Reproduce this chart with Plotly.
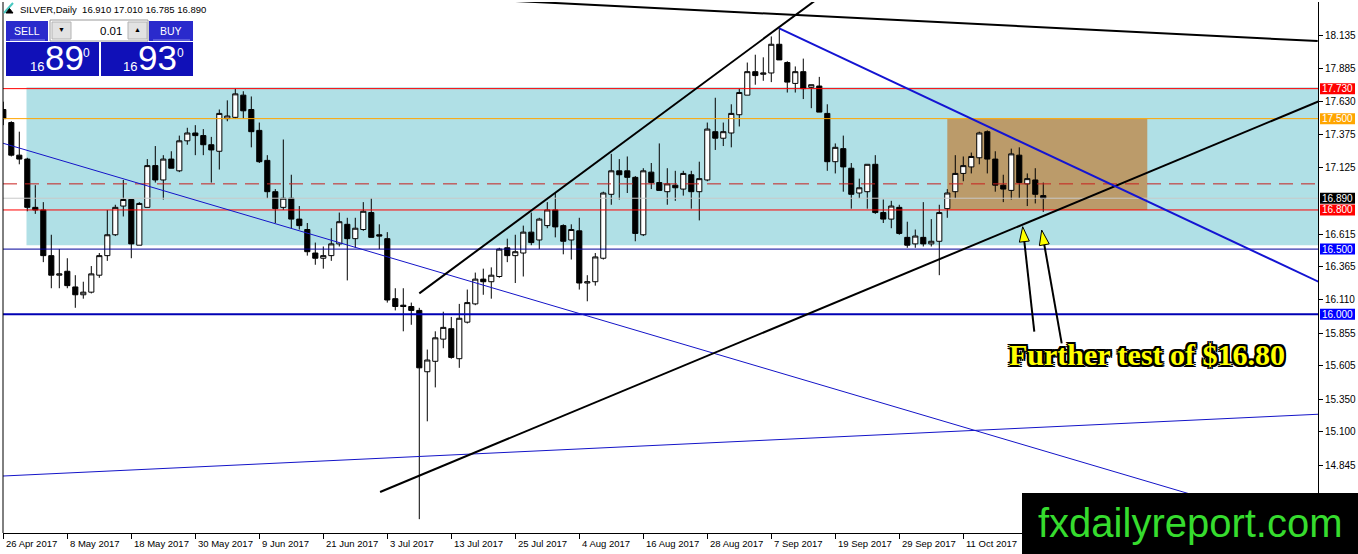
import math
import plotly.graph_objects as go

# ---------------- DATA ----------------
symbol = "SILVER,Daily"
open_ = [17.57, 17.47, 17.22, 17.19, 16.82, 16.80, 16.45, 16.30, 16.33, 16.21,
         16.15, 16.17, 16.30, 16.45, 16.61, 16.83, 16.88, 16.53, 16.82, 17.14,
         17.03, 17.19, 17.10, 17.33, 17.39, 17.37, 17.30, 17.25, 17.50, 17.51,
         17.68, 17.57, 17.41, 17.18, 16.94, 16.82, 16.89, 16.73, 16.65, 16.47,
         16.43, 16.45, 16.54, 16.69, 16.58, 16.65, 16.78, 16.61, 16.58, 16.12,
         16.07, 16.06, 16.03, 15.56, 15.64, 15.81, 15.89, 15.66, 15.94, 16.08,
         16.27, 16.25, 16.29, 16.51, 16.45, 16.47, 16.63, 16.57, 16.68, 16.80,
         16.68, 16.57, 16.64, 16.24, 16.25, 16.43, 16.92, 17.10, 17.10, 17.05,
         16.61, 17.09, 17.01, 16.94, 16.99, 16.96, 17.07, 16.94, 17.03, 17.40,
         17.35, 17.39, 17.53, 17.68, 17.86, 17.84, 17.85, 18.07, 17.93, 17.77,
         17.86, 17.74, 17.75, 17.54, 17.17, 17.27, 17.12, 16.93, 16.94, 17.15,
         16.78, 16.73, 16.82, 16.59, 16.54, 16.59, 16.54, 16.56, 16.81, 16.94,
         17.08, 17.13, 17.20, 17.40, 17.19, 16.99, 16.95, 17.22, 17.00, 17.03,
         16.910]
high = [17.63, 17.48, 17.40, 17.20, 16.99, 16.86, 16.61, 16.50, 16.43, 16.30,
        16.25, 16.37, 16.47, 16.80, 16.84, 17.03, 16.88, 16.86, 17.19, 17.29,
        17.22, 17.25, 17.37, 17.43, 17.45, 17.42, 17.36, 17.57, 17.64, 17.73,
        17.71, 17.67, 17.47, 17.22, 16.96, 17.34, 17.07, 16.83, 16.70, 16.55,
        16.52, 16.66, 16.78, 16.74, 16.74, 16.86, 16.89, 16.69, 16.63, 16.20,
        16.20, 16.09, 16.05, 15.73, 15.87, 16.02, 15.98, 16.08, 16.19, 16.32,
        16.35, 16.36, 16.51, 16.58, 16.61, 16.68, 16.78, 16.74, 16.86, 16.93,
        16.69, 16.69, 16.74, 16.30, 16.47, 16.94, 17.23, 17.19, 17.21, 17.06,
        17.12, 17.16, 17.31, 17.12, 17.10, 17.10, 17.10, 17.17, 17.47, 17.66,
        17.47, 17.61, 17.73, 17.93, 17.99, 17.97, 18.13, 18.20, 17.94, 17.90,
        17.96, 17.76, 17.82, 17.61, 17.31, 17.37, 17.16, 17.04, 17.15, 17.22,
        16.88, 16.87, 16.84, 16.71, 16.65, 16.86, 16.73, 16.84, 16.96, 17.22,
        17.21, 17.24, 17.40, 17.41, 17.25, 17.07, 17.27, 17.28, 17.08, 17.12,
        17.010]
low = [17.45, 17.21, 17.15, 16.79, 16.77, 16.40, 16.20, 16.20, 16.20, 16.05,
       16.12, 16.16, 16.28, 16.41, 16.60, 16.75, 16.43, 16.53, 16.82, 17.01,
       16.88, 17.12, 17.09, 17.30, 17.22, 17.22, 17.01, 17.11, 17.48, 17.50,
       17.50, 17.28, 17.16, 16.89, 16.70, 16.80, 16.66, 16.65, 16.45, 16.38,
       16.35, 16.41, 16.52, 16.26, 16.51, 16.64, 16.59, 16.50, 16.09, 16.03,
       15.87, 15.92, 14.43, 15.18, 15.44, 15.74, 15.66, 15.59, 15.93, 16.07,
       16.15, 16.12, 16.28, 16.40, 16.24, 16.29, 16.53, 16.50, 16.66, 16.59,
       16.46, 16.42, 16.19, 16.10, 16.22, 16.42, 16.84, 16.88, 16.93, 16.56,
       16.60, 16.96, 16.95, 16.84, 16.87, 16.91, 16.81, 16.72, 17.02, 17.26,
       17.29, 17.28, 17.44, 17.68, 17.76, 17.79, 17.78, 17.95, 17.70, 17.70,
       17.65, 17.58, 17.55, 17.10, 17.08, 16.94, 16.81, 16.89, 16.81, 16.77,
       16.70, 16.66, 16.61, 16.51, 16.51, 16.52, 16.52, 16.30, 16.74, 16.89,
       17.02, 17.08, 17.15, 17.08, 16.94, 16.86, 16.88, 16.89, 16.83, 16.85,
       16.785]
close = [17.50, 17.22, 17.19, 16.82, 16.80, 16.45, 16.30, 16.31, 16.22, 16.15,
         16.17, 16.31, 16.45, 16.61, 16.82, 16.88, 16.54, 16.85, 17.14, 17.03,
         17.19, 17.12, 17.33, 17.39, 17.37, 17.30, 17.26, 17.54, 17.52, 17.69,
         17.56, 17.40, 17.17, 16.94, 16.81, 16.89, 16.73, 16.68, 16.48, 16.43,
         16.45, 16.54, 16.71, 16.58, 16.66, 16.79, 16.59, 16.60, 16.11, 16.06,
         16.06, 16.03, 15.59, 15.65, 15.82, 15.90, 15.67, 15.97, 16.09, 16.27,
         16.25, 16.30, 16.50, 16.45, 16.48, 16.63, 16.55, 16.73, 16.80, 16.67,
         16.56, 16.65, 16.24, 16.25, 16.44, 16.93, 17.10, 17.07, 17.05, 16.62,
         17.10, 17.01, 16.95, 17.00, 16.97, 17.08, 16.94, 17.04, 17.42, 17.35,
         17.40, 17.54, 17.70, 17.86, 17.83, 17.85, 18.07, 17.95, 17.78, 17.86,
         17.73, 17.76, 17.55, 17.17, 17.28, 17.13, 16.92, 16.97, 17.15, 16.78,
         16.73, 16.83, 16.62, 16.53, 16.60, 16.54, 16.56, 16.78, 16.93, 17.08,
         17.14, 17.21, 17.39, 17.19, 16.99, 16.96, 17.23, 17.01, 17.04, 16.92,
         16.890]
bars = list(range(len(open_)))

date_tick_bars = [0, 8, 16, 24, 32, 40, 48, 56, 64, 72, 80, 88, 96, 104, 112, 120]
date_tick_labels = ["26 Apr 2017", "8 May 2017", "18 May 2017", "30 May 2017",
                    "9 Jun 2017", "21 Jun 2017", "3 Jul 2017", "13 Jul 2017",
                    "25 Jul 2017", "4 Aug 2017", "16 Aug 2017", "28 Aug 2017",
                    "7 Sep 2017", "19 Sep 2017", "29 Sep 2017", "11 Oct 2017"]
price_ticks = [14.590, 14.845, 15.100, 15.350, 15.605, 15.855, 16.110, 16.365,
               16.615, 17.125, 17.375, 17.630, 17.885, 18.135]
# the lowest tick label sits under the watermark box in the original
price_tick_hidden = [14.590]

# horizontal levels
level_prices = [17.73, 17.50, 17.00, 16.89, 16.80, 16.50, 16.00]
level_labelled = [True, True, False, True, True, True, True]

# zones: (bar_start, bar_end, price_low, price_high)
zone_blue = (2.9, 170, 16.53, 17.74)
zone_tan = (118, 143, 16.80, 17.50)

# trendlines: (bar0, price0, bar1, price1)
trend_black_top = (40, 18.475, 164.3, 18.095)
trend_black_channel = (52.0, 16.161, 106, 18.61)
trend_black_support = (47.1, 14.638, 166, 17.673)
trend_blue_thick = (97.0, 18.192, 164.4, 16.250)
trend_blue_thin_down = (-1, 17.329, 165, 14.321)
trend_blue_thin_up = (-1, 14.758, 165, 15.236)

bid = 16.890
ask = 16.930
lot = "0.01"
note_text = "Further test of $16.80"
watermark = "fxdailyreport.com"

# ---------------- LAYOUT GEOMETRY ----------------
W, H = 1358, 554
PL, PT, PW, PH = 3, 2, 1315, 531
X_RANGE = [-0.0375, 164.34]
Y_RANGE = [14.324, 18.394]


def px(xp):
    return (xp - PL) / PW


def py(yp):
    return (PT + PH - yp) / PH


FONT = "Liberation Sans"

fig = go.Figure()
fig.add_trace(go.Candlestick(
    x=bars, open=open_, high=high, low=low, close=close,
    increasing=dict(line=dict(color="black", width=1), fillcolor="white"),
    decreasing=dict(line=dict(color="black", width=1), fillcolor="black"),
    whiskerwidth=0, hoverinfo="skip", showlegend=False,
))

shapes = []
annotations = []

# zones (background)
for (b0, b1, p0, p1), col in ((zone_blue, "#B0E0E6"), (zone_tan, "#BB9B6A")):
    shapes.append(dict(type="rect", xref="x", yref="y", x0=b0, x1=b1, y0=p0, y1=p1,
                       fillcolor=col, line=dict(width=0), layer="below"))

# horizontal levels
level_styles = {
    17.73: dict(color="#FF0000", width=1),
    17.50: dict(color="#FFA500", width=1),
    17.00: dict(color="#C8201E", width=1, dash="14px,8px"),
    16.89: dict(color="#C8C8C8", width=1),
    16.80: dict(color="#FF0000", width=1),
    16.50: dict(color="#000099", width=1),
    16.00: dict(color="#0000B4", width=2),
}
for p in level_prices:
    shapes.append(dict(type="line", xref="paper", yref="y", x0=0, x1=1, y0=p, y1=p,
                       line=level_styles[p], layer="above"))

# trendlines
for t, col, wd in ((trend_blue_thin_down, "#1414C8", 1),
                   (trend_blue_thin_up, "#1414C8", 1),
                   (trend_black_top, "black", 2),
                   (trend_black_channel, "black", 2),
                   (trend_black_support, "black", 2),
                   (trend_blue_thick, "#1414D2", 2)):
    shapes.append(dict(type="line", xref="x", yref="y", x0=t[0], y0=t[1], x1=t[2], y1=t[3],
                       line=dict(color=col, width=wd), layer="above"))

# arrows (pixel geometry)
arrows_px = [((1022.7, 226.7), (1034.3, 331.7)), ((1041.7, 230.0), (1061.7, 343.3))]
for (tx, ty), (sx, sy) in arrows_px:
    dx, dy = sx - tx, sy - ty
    L = math.hypot(dx, dy)
    ux, uy = dx / L, dy / L
    shapes.append(dict(type="line", xref="paper", yref="paper",
                       x0=px(sx), y0=py(sy), x1=px(tx + 8 * ux), y1=py(ty + 8 * uy),
                       line=dict(color="black", width=2), layer="above"))
    hl, hw = 15, 5
    bx, by = hl * ux, hl * uy
    nx, ny = -uy, ux
    c1 = (bx + hw * nx, by + hw * ny)
    c2 = (bx - hw * nx, by - hw * ny)
    path = f"M0,0 L{c1[0]:.2f},{-c1[1]:.2f} L{c2[0]:.2f},{-c2[1]:.2f} Z"
    shapes.append(dict(type="path", xref="paper", yref="paper", xsizemode="pixel",
                       ysizemode="pixel", xanchor=px(tx), yanchor=py(ty), path=path,
                       fillcolor="#FFFF00", line=dict(color="black", width=1), layer="above"))

# left frame
shapes.append(dict(type="line", xref="paper", yref="paper", x0=0, x1=0, y0=0, y1=1,
                   line=dict(color="black", width=1), layer="above"))

# price labels on right axis
label_colors = {17.73: "#FF0000", 17.50: "#FFA500", 16.89: "#000000",
                16.80: "#FF0000", 16.50: "#0000FF", 16.00: "#0000FF"}
for p, lab in zip(level_prices, level_labelled):
    if not lab:
        continue
    shapes.append(dict(type="rect", xref="paper", yref="y", x0=px(1320), x1=px(1355),
                       ysizemode="pixel", yanchor=p, y0=-5.5, y1=5.5,
                       fillcolor=label_colors[p], line=dict(width=0), layer="above"))
    annotations.append(dict(xref="paper", yref="y", x=px(1337.5), y=p, text=f"{p:.3f}",
                            showarrow=False, xanchor="center", yanchor="middle",
                            font=dict(family=FONT, size=10, color="white")))

# watermark box
shapes.append(dict(type="rect", xref="paper", yref="paper", x0=px(1022), x1=px(1360),
                   y0=py(556), y1=py(493), fillcolor="black", line=dict(width=0), layer="above"))
annotations.append(dict(xref="paper", yref="paper", x=px(1190), y=py(523), text=watermark,
                        showarrow=False, xanchor="center", yanchor="middle",
                        font=dict(family=FONT, size=40, color="#36DC2E")))

# note text
annotations.append(dict(xref="paper", yref="paper", x=px(1146.5), y=py(354),
                        text=f"<b>{note_text}</b>", showarrow=False,
                        xanchor="center", yanchor="middle",
                        font=dict(family="Liberation Serif", size=30, color="#FFFF00",
                                  shadow="2px 2px 0 #000, -2px -2px 0 #000, 2px -2px 0 #000, "
                                         "-2px 2px 0 #000, 0 2px 0 #000, 2px 0 0 #000, "
                                         "0 -2px 0 #000, -2px 0 0 #000")))

# x-axis date labels (left aligned at tick)
for b, lab in zip(date_tick_bars, date_tick_labels):
    annotations.append(dict(xref="x", yref="paper", x=b, y=py(536), text=lab,
                            showarrow=False, xanchor="left", yanchor="top", xshift=1,
                            font=dict(family=FONT, size=9.5, color="black")))

# ---------- top-left trading panel ----------
def prect(x0, y0, x1, y1, fill, line_col=None, lw=0):
    shapes.append(dict(type="rect", xref="paper", yref="paper",
                       x0=px(x0), x1=px(x1), y0=py(y1), y1=py(y0), fillcolor=fill,
                       line=dict(color=line_col or fill, width=lw), layer="above"))


def ptext(x, y, text, size, color="white", xanchor="center", family=FONT):
    annotations.append(dict(xref="paper", yref="paper", x=px(x), y=py(y), text=text,
                            showarrow=False, xanchor=xanchor, yanchor="middle",
                            font=dict(family=family, size=size, color=color)))


# title
shapes.append(dict(type="line", xref="paper", yref="paper", x0=px(4), y0=py(13),
                   x1=px(13), y1=py(3), line=dict(color="#48C8C0", width=2), layer="above"))
shapes.append(dict(type="path", xref="paper", yref="paper",
                   path=f"M{px(6)},{py(13)} L{px(9.5)},{py(8.5)} L{px(13)},{py(13)} Z",
                   fillcolor="black", line=dict(color="black", width=1), layer="above"))
ptext(18, 9.5, f"{symbol}  {open_[-1]:.3f} {high[-1]:.3f} {low[-1]:.3f} {close[-1]:.3f}",
      9.5, color="black", xanchor="left")

# buttons
prect(6, 21, 48, 41, "#2A2ACC")
prect(149, 21, 193, 41, "#2A2ACC")
shapes.append(dict(type="line", xref="paper", yref="paper", x0=px(10), x1=px(45),
                   y0=py(40), y1=py(40), line=dict(color="#8888E8", width=1), layer="above"))
shapes.append(dict(type="line", xref="paper", yref="paper", x0=px(153), x1=px(190),
                   y0=py(40), y1=py(40), line=dict(color="#8888E8", width=1), layer="above"))
ptext(27, 30.5, "SELL", 10.5)
ptext(171, 30.5, "BUY", 10.5)
# lot spinner
prect(50, 20, 148, 41, "white", "#9A9A9A", 1)
prect(52, 22, 71, 39, "#E2E2E2", "#B4B4B4", 1)
prect(128, 22, 147, 39, "#E2E2E2", "#B4B4B4", 1)
ptext(61.5, 30, "▼", 7, color="black")
ptext(137.5, 30, "▲", 7, color="black")
ptext(124, 30.5, lot, 11.5, color="black", xanchor="right")
# price boxes
prect(6, 42, 99, 76, "#1010B8")
prect(101, 42, 193, 76, "#1010B8")
bid_s, ask_s = f"{bid:.3f}", f"{ask:.3f}"
ptext(37, 66, bid_s[:2], 13)
ptext(64.5, 58, bid_s[3:5], 35)
ptext(86.7, 52.5, bid_s[5], 12)
ptext(130.3, 66, ask_s[:2], 13)
ptext(157.5, 58, ask_s[3:5], 35)
ptext(180.3, 52.5, ask_s[5], 12)

fig.update_layout(
    width=W, height=H,
    margin=dict(l=PL, r=W - PL - PW, t=PT, b=H - PT - PH, pad=0),
    paper_bgcolor="white", plot_bgcolor="white",
    showlegend=False, boxgap=0.2, boxgroupgap=0.2,
    font=dict(family=FONT, size=10, color="black"),
    shapes=shapes, annotations=annotations,
    xaxis=dict(range=X_RANGE, showgrid=False, zeroline=False, showline=True,
               linecolor="black", linewidth=1, tickvals=date_tick_bars,
               showticklabels=False, ticks="outside", ticklen=5, tickcolor="black",
               rangeslider=dict(visible=False), fixedrange=True),
    yaxis=dict(range=Y_RANGE, side="right", showgrid=False, zeroline=False,
               showline=True, linecolor="black", linewidth=1,
               tickvals=price_ticks,
               ticktext=["" if v in price_tick_hidden else f"{v:.3f}" for v in price_ticks],
               ticks="outside", ticklen=4, tickcolor="black",
               tickfont=dict(family=FONT, size=10, color="black"), fixedrange=True),
)

fig.write_html("out.html", config={"displayModeBar": False},
               post_script="document.body.style.margin='0px';document.body.style.overflow='hidden';")
